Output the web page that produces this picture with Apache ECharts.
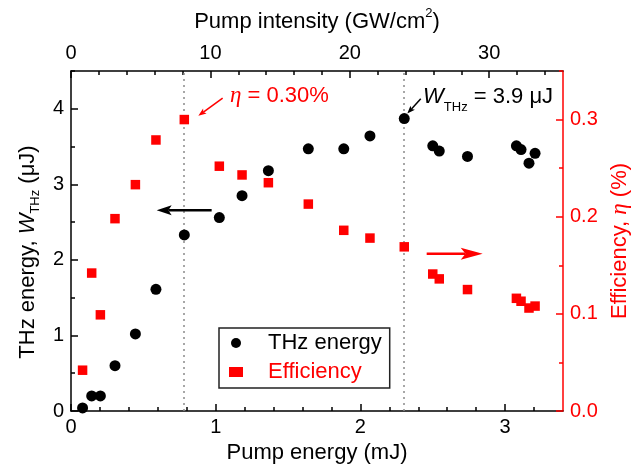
<!DOCTYPE html>
<html>
<head>
<meta charset="utf-8">
<script src="https://cdn.jsdelivr.net/npm/echarts@6/dist/echarts.min.js"></script>
<style>
html,body{margin:0;padding:0;background:#fff;}
#c{width:641px;height:469px;}
</style>
</head>
<body>
<div id="c"></div>
<script>
// ---------------- data ----------------
const pumpEnergy = [0.08, 0.143, 0.203, 0.304, 0.445, 0.587, 0.783, 1.025, 1.182, 1.364, 1.64, 1.885, 2.066, 2.303, 2.50, 2.545, 2.74, 3.078, 3.11, 3.165, 3.207];
const thzEnergy  = [0.04, 0.20, 0.20, 0.60, 1.02, 1.61, 2.33, 2.56, 2.85, 3.18, 3.47, 3.47, 3.64, 3.87, 3.51, 3.44, 3.37, 3.51, 3.46, 3.28, 3.41];
const efficiency = [0.042, 0.142, 0.099, 0.198, 0.233, 0.279, 0.300, 0.252, 0.243, 0.235, 0.213, 0.186, 0.178, 0.169, 0.141, 0.136, 0.125, 0.116, 0.113, 0.106, 0.108];

// axis ranges and ticks
const energyRange = [0, 3.4];
const intensityRange = [0, 35.3];
const thzRange = [0, 4.5];
const effRange = [0, 0.35];
const energyTicks = [0, 1, 2, 3];
const energyMinor = [0.2, 0.4, 0.6, 0.8, 1.2, 1.4, 1.6, 1.8, 2.2, 2.4, 2.6, 2.8, 3.2];
const intensityTicks = [0, 10, 20, 30];
const intensityMinor = [2, 4, 6, 8, 12, 14, 16, 18, 22, 24, 26, 28, 32, 34];
const thzTicks = [0, 1, 2, 3, 4];
const thzMinor = [0.5, 1.5, 2.5, 3.5, 4.5];
const effTicks = [0, 0.1, 0.2, 0.3];
const effMinor = [0.05, 0.15, 0.25, 0.35];

// annotations (data coordinates)
const etaLabel = {text: '{i|η} = 0.30%', at: [1.099, 0.324]};
const wLabel = {text: '{w|W}{s|THz} = 3.9 μJ', at: [2.433, 4.156]};
const etaPointer = [[1.048, 0.322], [0.880, 0.304]];
const wPointer = [[2.417, 4.132], [2.324, 3.936]];
const leftArrow = [[0.972, 2.657], [0.592, 2.657]];
const rightArrow = [[2.458, 0.162], [2.845, 0.162]];

// ---------------- chart ----------------
const FONT = 'Liberation Sans, Arial, sans-serif';
const RED = '#ff0000';
const BLACK = '#000000';

function argMax(a){let k=0;for(let i=1;i<a.length;i++)if(a[i]>a[k])k=i;return k;}
const guideX = [pumpEnergy[argMax(efficiency)], pumpEnergy[argMax(thzEnergy)]];

function mainAxis(o){
  return Object.assign({
    type:'value', splitLine:{show:false},
    axisLine:{show:true, onZero:false, lineStyle:{color:o.color, width:1.5}},
    axisTick:{show:true, inside:true, length:7, customValues:o.ticks, lineStyle:{color:o.color, width:1.5}},
    axisLabel:{show:true, customValues:o.ticks, fontSize:20, fontFamily:FONT, color:o.color, margin:o.margin,
      formatter:o.fmt || (v => String(v))},
    nameTextStyle:{fontSize:22, fontFamily:FONT, color:o.color}
  }, o.extra);
}
function minorAxis(o){
  return {
    type:'value', position:o.position, min:o.range[0], max:o.range[1], interval:o.step,
    splitLine:{show:false},
    axisLine:{show:false, onZero:false},
    axisLabel:{show:false},
    axisTick:{show:true, inside:true, length:4, customValues:o.ticks, lineStyle:{color:o.color, width:1.5}}
  };
}

const option = {
  animation:false,
  backgroundColor:'#fff',
  textStyle:{fontFamily:FONT},
  grid:{left:71, right:78, top:71, bottom:55},
  legend:{
    left:219, top:328, orient:'vertical',
    itemWidth:14, itemHeight:10, itemGap:7,
    padding:[4,8,5,10],
    borderColor:'#222', borderWidth:1.5, backgroundColor:'#fff',
    textStyle:{fontSize:22, fontFamily:FONT, lineHeight:22, padding:[0,0,0,20]},
    data:[
      {name:'THz energy', icon:'circle', itemStyle:{opacity:1}, textStyle:{color:BLACK}},
      {name:'Efficiency', icon:'rect', itemStyle:{opacity:1}, textStyle:{color:RED}}
    ]
  },
  xAxis:[
    mainAxis({color:BLACK, ticks:energyTicks, margin:6, extra:{
      position:'bottom', min:energyRange[0], max:energyRange[1], interval:1,
      name:'Pump energy (mJ)', nameLocation:'middle', nameGap:31}}),
    mainAxis({color:BLACK, ticks:intensityTicks, margin:8, extra:{
      position:'top', min:intensityRange[0], max:intensityRange[1], interval:10,
      name:'Pump intensity (GW/cm{sup|2})', nameLocation:'middle', nameGap:35,
      nameTextStyle:{fontSize:22, fontFamily:FONT, color:BLACK,
        rich:{sup:{fontSize:13, fontFamily:FONT, color:BLACK, padding:[0,0,16,0]}}}}}),
    minorAxis({position:'bottom', range:energyRange, step:0.2, ticks:energyMinor, color:BLACK}),
    minorAxis({position:'top', range:intensityRange, step:2, ticks:intensityMinor, color:BLACK})
  ],
  yAxis:[
    mainAxis({color:BLACK, ticks:thzTicks, margin:7, extra:{
      position:'left', min:thzRange[0], max:thzRange[1], interval:1,
      name:'THz energy, {i|W}{s|THz} (μJ)', nameLocation:'middle', nameRotate:90, nameGap:27,
      nameTextStyle:{fontSize:22, fontFamily:FONT, color:BLACK, padding:[0,22,0,0],
        rich:{i:{fontSize:22, fontFamily:FONT, fontStyle:'italic', color:BLACK},
              s:{fontSize:13, fontFamily:FONT, color:BLACK, padding:[16,0,0,0]}}}}}),
    mainAxis({color:RED, ticks:effTicks, margin:7, fmt:(v => v.toFixed(1)), extra:{
      position:'right', min:effRange[0], max:effRange[1], interval:0.1,
      name:'Efficiency, {i|η} (%)', nameLocation:'middle', nameRotate:90, nameGap:42,
      nameTextStyle:{fontSize:22, fontFamily:FONT, color:RED,
        rich:{i:{fontSize:23, fontFamily:'Liberation Serif, serif', fontStyle:'italic', color:RED}}}}}),
    minorAxis({position:'left', range:thzRange, step:0.5, ticks:thzMinor, color:BLACK}),
    minorAxis({position:'right', range:effRange, step:0.05, ticks:effMinor, color:RED})
  ],
  series:[
    {
      name:'THz energy', type:'scatter', xAxisIndex:0, yAxisIndex:0,
      symbol:'circle', symbolSize:11, itemStyle:{color:BLACK, opacity:1},
      data:pumpEnergy.map((x,i)=>[x, thzEnergy[i]]),
      z:3,
      markLine:{
        z:1, silent:true, symbol:['none','none'], label:{show:false},
        lineStyle:{color:'#8a8a8a', type:[2,4], width:1.5},
        data:guideX.map(v=>({xAxis:v}))
      }
    },
    {
      name:'Efficiency', type:'scatter', xAxisIndex:0, yAxisIndex:1,
      symbol:'rect', symbolSize:9.5, itemStyle:{color:RED, opacity:1},
      data:pumpEnergy.map((x,i)=>[x, efficiency[i]]),
      z:4
    }
  ]
};

const chart = echarts.init(document.getElementById('c'), null, {renderer:'canvas'});
chart.setOption(option);

function px(si, p){ return chart.convertToPixel({seriesIndex:si}, p); }
function arrow(p0, p1, len, wid, color, lw){
  const dx=p1[0]-p0[0], dy=p1[1]-p0[1], L=Math.hypot(dx,dy);
  const ux=dx/L, uy=dy/L, nx=-uy, ny=ux;
  const bx=p1[0]-ux*len, by=p1[1]-uy*len;
  const notch=[p1[0]-ux*len*0.78, p1[1]-uy*len*0.78];
  return [
    {type:'line', silent:true, z:10, shape:{x1:p0[0], y1:p0[1], x2:notch[0], y2:notch[1]}, style:{stroke:color, lineWidth:lw}},
    {type:'polygon', silent:true, z:10, shape:{points:[p1, [bx+nx*wid/2, by+ny*wid/2], notch, [bx-nx*wid/2, by-ny*wid/2]]}, style:{fill:color}}
  ];
}

const etaPos = px(1, etaLabel.at);
const wPos = px(0, wLabel.at);
const graphics = [].concat(
  arrow(px(0, leftArrow[0]), px(0, leftArrow[1]), 15, 10, BLACK, 2.5),
  arrow(px(1, rightArrow[0]), px(1, rightArrow[1]), 22, 12, RED, 2.5),
  arrow(px(1, etaPointer[0]), px(1, etaPointer[1]), 8, 6, RED, 1.5),
  arrow(px(0, wPointer[0]), px(0, wPointer[1]), 8, 6, BLACK, 1.5),
  [
    {type:'text', silent:true, z:10, x:etaPos[0], y:etaPos[1], style:{
      text:etaLabel.text, fontSize:22, fontFamily:FONT, fill:RED, align:'left', verticalAlign:'middle',
      rich:{i:{fontSize:23, fontFamily:'Liberation Serif, serif', fontStyle:'italic', fill:RED}}}},
    {type:'text', silent:true, z:10, x:wPos[0], y:wPos[1], style:{
      text:wLabel.text, fontSize:22, fontFamily:FONT, fill:BLACK, align:'left', verticalAlign:'middle',
      rich:{w:{fontSize:22, fontFamily:FONT, fontStyle:'italic', fill:BLACK},
            s:{fontSize:13, fontFamily:FONT, fill:BLACK, padding:[20,0,0,0]}}}}
  ]
);
chart.setOption({graphic:graphics});
</script>
</body>
</html>
